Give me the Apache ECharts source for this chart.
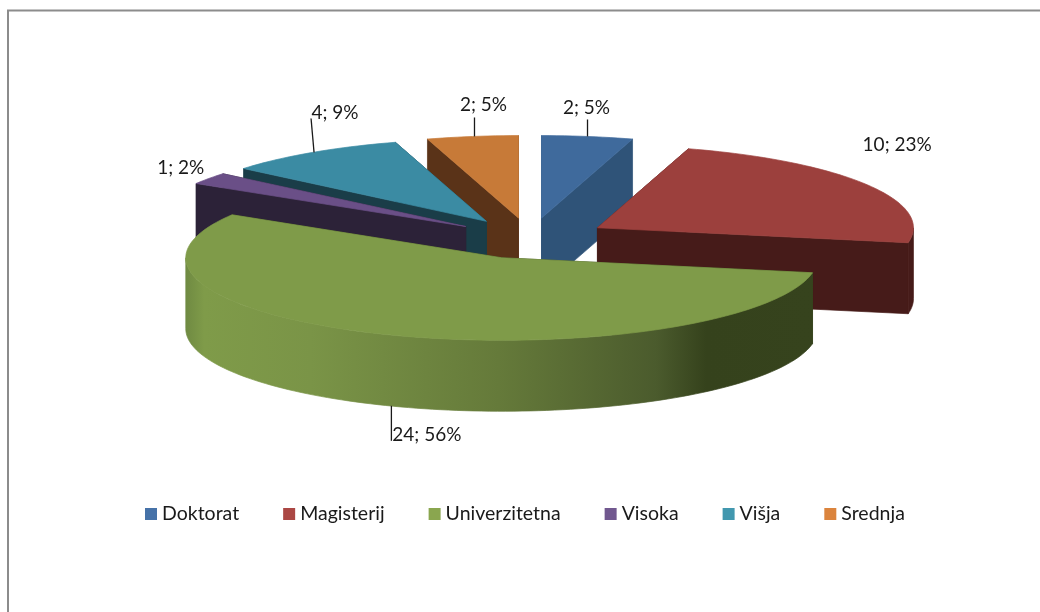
<!DOCTYPE html>
<html>
<head>
<meta charset="utf-8">
<style>html,body{margin:0;padding:0;background:#fff}#c{width:1040px;height:612px}</style>
<script src="https://cdn.jsdelivr.net/npm/echarts@6/dist/echarts.min.js"></script>
</head>
<body>
<div id="c"></div>
<script>
// data
const categories = ['Doktorat', 'Magisterij', 'Univerzitetna', 'Visoka', 'Višja', 'Srednja'];
const values = [2, 10, 24, 1, 4, 2];

// style
const legendColors = ['#4672a8', '#ab4744', '#8aa64f', '#71588f', '#4298af', '#db843d'];
const topColors = ['#3f6a9c', '#9c403d', '#7f9b49', '#6a4f87', '#3b8ba3', '#c77a38'];
const wallColors = ['#2f5378', '#461b19', '#36431d', '#2c2238', '#1a3d48', '#5a3318'];
const paintOrder = [1, 5, 6, 4, 3, 2];
// label placement relative to the middle of each slice's rim:
// [leader start dx, leader end dx, leader end dy, text dx, text dy]
const labelOffsets = [
  [0, 0, -17, -1, -29],
  [null, null, null, 30, -40],
  [2.5, 2.5, 35, 38, 29.5],
  [null, null, null, -28, -10.5],
  [2, -1, -34, 23, -39.5],
  [2, 2, -19, 11, -31.5]
];

// 3D pie projection
const CX = 530, CY = 238.5, RX = 316, RY = 82.5, DEPTH = 71, EXPLODE = 0.25;
const total = values.reduce((a, b) => a + b, 0);
const rad = d => d * Math.PI / 180;

function sliceShapes(i) {
  const start = values.slice(0, i).reduce((a, b) => a + b, 0) / total * 360;
  const end = start + values[i] / total * 360;
  const mid = (start + end) / 2;
  const ax = CX + EXPLODE * RX * Math.sin(rad(mid));
  const ay = CY - EXPLODE * RY * Math.cos(rad(mid));
  const rim = d => [ax + RX * Math.sin(rad(d)), ay - RY * Math.cos(rad(d))];
  const arc = (a, b) => {
    const pts = [];
    const n = Math.max(2, Math.ceil((b - a) / 1.5));
    for (let k = 0; k <= n; k++) pts.push(rim(a + (b - a) * k / n));
    return pts;
  };
  return { start, end, mid, ax, ay, rim, arc };
}

function down(p) { return [p[0], p[1] + DEPTH]; }

function makeRender(i) {
  return function (params, api) {
    const s = sliceShapes(i);
    const children = [];
    const wall = wallColors[i];
    const radial = [s.start, s.end].sort((a, b) => s.rim(a)[1] - s.rim(b)[1]);
    radial.forEach(d => {
      const o = s.rim(d), apex = [s.ax, s.ay];
      children.push({ type: 'polygon', shape: { points: [apex, o, down(o), down(apex)] },
        style: { fill: wall, stroke: wall, lineWidth: 0.7 } });
    });
    const a0 = Math.max(s.start, 90), a1 = Math.min(s.end, 270);
    if (a1 > a0) {
      const upper = s.arc(a0, a1);
      const lower = upper.map(down).reverse();
      const grad = () => new echarts.graphic.LinearGradient(0, 0, 1, 0, [
        { offset: 0, color: '#6f8a42' },
        { offset: 0.03, color: '#7f9b49' },
        { offset: 0.2, color: '#7a9447' },
        { offset: 0.5, color: '#657a3a' },
        { offset: 0.75, color: '#4b5b2d' },
        { offset: 0.83, color: '#35421c' },
        { offset: 1, color: '#36431d' }
      ]);
      const fill = i === 2 ? grad() : wall;
      const stroke = i === 2 ? grad() : wall;
      children.push({ type: 'polygon', shape: { points: upper.concat(lower) },
        style: { fill, stroke, lineWidth: 0.7 } });
    }
    children.push({ type: 'polygon', shape: { points: [[s.ax, s.ay]].concat(s.arc(s.start, s.end)) },
      style: { fill: topColors[i], stroke: topColors[i], lineWidth: 0.7 } });

    const v = api.value(0);
    const m = s.rim(s.mid);
    const front = s.mid > 90 && s.mid < 270;
    const base = front ? down(m) : m;
    const off = labelOffsets[i];
    if (off[0] !== null) {
      children.push({ type: 'line',
        shape: { x1: base[0] + off[0], y1: base[1], x2: base[0] + off[1], y2: base[1] + off[2] },
        style: { stroke: '#1a1a1a', lineWidth: 1.3 } });
    }
    children.push({ type: 'text', style: {
      text: v + '; ' + Math.round(v / total * 100) + '%',
      x: base[0] + off[3], y: base[1] + off[4],
      align: 'center', verticalAlign: 'middle',
      fontFamily: 'Lato', fontSize: 19, fill: '#1a1a1a' } });
    return { type: 'group', children };
  };
}

const chart = echarts.init(document.getElementById('c'), null, { renderer: 'canvas' });
chart.setOption({
  animation: false,
  backgroundColor: '#ffffff',
  legend: {
    data: categories,
    left: 145, top: 504, padding: 0,
    itemWidth: 12, itemHeight: 12, itemGap: 44,
    icon: 'rect',
    textStyle: { fontFamily: 'Lato', fontSize: 19.5, color: '#1a1a1a', padding: [0, 0, 0, 0] },
    selectedMode: false
  },
  graphic: [
    { type: 'line', shape: { x1: 7, y1: 10.5, x2: 1040, y2: 10.5 }, style: { stroke: '#8c8c8c', lineWidth: 2 } },
    { type: 'line', shape: { x1: 8, y1: 10, x2: 8, y2: 612 }, style: { stroke: '#8c8c8c', lineWidth: 2 } }
  ],
  series: categories.map((name, i) => ({
    type: 'custom',
    name,
    coordinateSystem: 'none',
    z: paintOrder[i] + 2,
    itemStyle: { color: legendColors[i] },
    data: [[values[i]]],
    renderItem: makeRender(i),
    silent: true
  }))
});
</script>
</body>
</html>
